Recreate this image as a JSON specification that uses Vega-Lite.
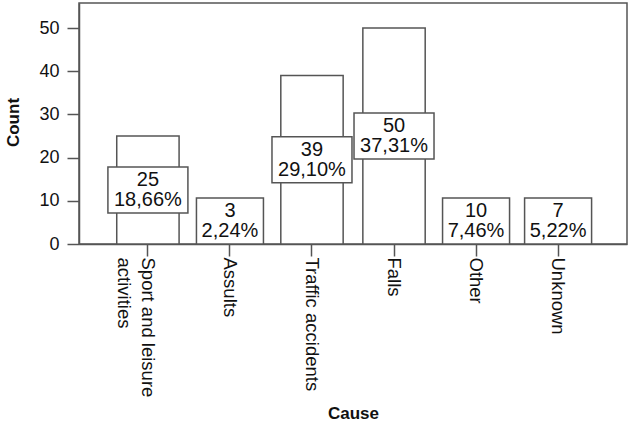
{
  "$schema": "https://vega.github.io/schema/vega-lite/v6.json",
  "autosize": {"type": "none"},
  "width": 548,
  "height": 241,
  "padding": {"left": 79, "top": 3, "right": 3, "bottom": 178},
  "background": "white",
  "config": {
    "font": "Liberation Sans",
    "view": {"stroke": "#555", "strokeWidth": 1.5},
    "axis": {"grid": false, "domainColor": "#555", "domainWidth": 1.5, "tickColor": "#555", "tickWidth": 1.5, "labelColor": "#111", "titleColor": "#111"}
  },
  "data": {
    "values": [
      {"Cause": "Sport and leisure activities", "Count": 25, "Pct": "18,66%"},
      {"Cause": "Assults", "Count": 3, "Pct": "2,24%"},
      {"Cause": "Traffic accidents", "Count": 39, "Pct": "29,10%"},
      {"Cause": "Falls", "Count": 50, "Pct": "37,31%"},
      {"Cause": "Other", "Count": 10, "Pct": "7,46%"},
      {"Cause": "Unknown", "Count": 7, "Pct": "5,22%"}
    ]
  },
  "transform": [
    {"calculate": "max(datum.Count / 2, 5.33)", "as": "mid"},
    {"calculate": "datum.mid - 5.33", "as": "lo"},
    {"calculate": "datum.mid + 5.33", "as": "hi"},
    {"calculate": "length(datum.Pct)", "as": "len"}
  ],
  "encoding": {
    "x": {
      "field": "Cause",
      "type": "nominal",
      "sort": null,
      "scale": {"paddingInner": 0.24, "paddingOuter": 0.46},
      "axis": {
        "title": "Cause",
        "titleFontSize": 17,
        "titleFontWeight": "bold",
        "titleX": 274,
        "titleY": 174,
        "titleBaseline": "alphabetic",
        "labelAngle": 90,
        "labelFontSize": 18.5,
        "labelPadding": 1,
        "labelLineHeight": 24,
        "tickSize": 12,
        "labelExpr": "datum.label == 'Sport and leisure activities' ? ['Sport and leisure', 'activities'] : datum.label"
      }
    }
  },
  "layer": [
    {
      "mark": {"type": "bar", "fill": "white", "stroke": "#555", "strokeWidth": 1.5},
      "encoding": {
        "y": {
          "field": "Count",
          "type": "quantitative",
          "scale": {"domain": [0, 55.8], "nice": false},
          "axis": {
            "title": "Count",
            "values": [0, 10, 20, 30, 40, 50],
            "titleFontSize": 17,
            "titleFontWeight": "bold",
            "titleAngle": -90,
            "titleX": -61,
            "titleY": 119,
            "titleAlign": "center",
            "titleBaseline": "alphabetic",
            "labelFontSize": 18,
            "labelPadding": 8,
            "tickSize": 12
          }
        }
      }
    },
    {
      "mark": {"type": "bar", "fill": "white", "stroke": "#555", "strokeWidth": 1.5},
      "encoding": {
        "y": {"field": "lo", "type": "quantitative"},
        "y2": {"field": "hi"},
        "size": {"field": "len", "type": "quantitative", "scale": {"domain": [5, 6], "range": [67, 80]}, "legend": null}
      }
    },
    {
      "mark": {"type": "text", "fontSize": 20, "baseline": "middle", "align": "center", "dy": -10, "color": "#111"},
      "encoding": {
        "y": {"field": "mid", "type": "quantitative"},
        "text": {"field": "Count", "type": "nominal"}
      }
    },
    {
      "mark": {"type": "text", "fontSize": 20, "baseline": "middle", "align": "center", "dy": 10, "color": "#111"},
      "encoding": {
        "y": {"field": "mid", "type": "quantitative"},
        "text": {"field": "Pct", "type": "nominal"}
      }
    }
  ]
}
